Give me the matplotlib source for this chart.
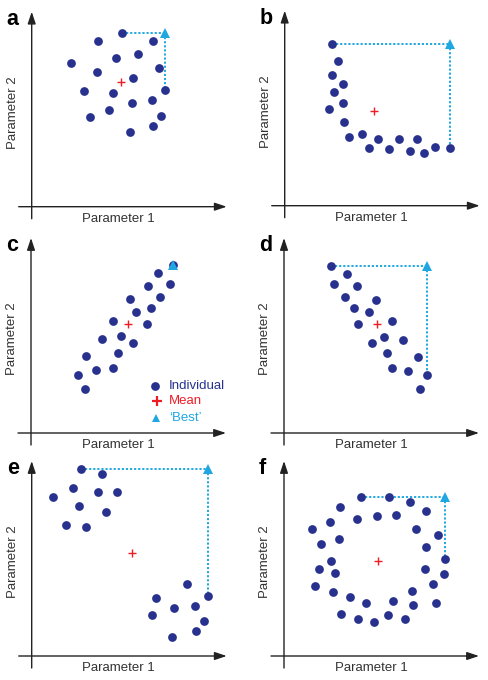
import numpy as np
import matplotlib
matplotlib.use('Agg')
import matplotlib.pyplot as plt

plt.rcParams['font.family'] = ['Liberation Sans', 'DejaVu Sans']

NAVY = '#28328e'
RED = '#ee1c25'
CYAN = '#1ea7e1'

# point coordinates per panel (parameter 1, parameter 2)
a_x = [90, 66.7, 121.7, 106.7, 84.3, 39, 127.7, 65.7, 101.7, 52.7, 81.7, 133.7, 100.3, 120.3, 77.7, 58.3, 129.7, 121.3, 98.3]
a_y = [173.3, 165.7, 165.7, 152.7, 148.3, 144, 138.7, 134.3, 129, 115.3, 113.3, 116.3, 104, 106.3, 96.7, 89.3, 90.7, 81, 74.7]
a_mean = (89.3, 124.7)

b_x = [47, 53, 47, 58.3, 49, 58.3, 44.7, 59.3, 64.7, 77, 84.3, 93.3, 104.7, 114, 125, 132, 139.7, 150, 165.7]
b_y = [161.7, 145, 130.3, 121.7, 114, 102.3, 96.7, 83.3, 69, 72, 57.3, 67, 56.3, 67, 54.7, 66.3, 52.7, 58.7, 57.7]
b_mean = (89, 94.3)

c_x = [141.7, 127, 117.3, 139.3, 98.7, 128.7, 105, 119.7, 81.7, 115.7, 90.3, 71, 101.7, 55, 86.7, 47, 65.3, 81.7, 54.3]
c_y = [167.7, 159.7, 147, 148.7, 133.7, 136.3, 121, 125, 112, 108.7, 96.7, 93.7, 90.3, 76.7, 80, 58.3, 62.7, 65, 44]
c_mean = (97, 109)

d_x = [47.3, 63.3, 50.3, 73, 61.3, 91.7, 70, 85, 74.3, 108.3, 99.7, 88, 119, 103, 134, 108.3, 124.3, 142.7, 136]
d_y = [167.3, 159.3, 148.7, 146.7, 136, 133.3, 124.7, 120.7, 108.7, 111.7, 96.3, 90, 93.3, 79.7, 76.3, 64.7, 62.3, 58, 43.7]
d_mean = (92.7, 108.7)

e_x = [49.7, 70.7, 41.3, 66, 85.7, 21, 47.7, 74.7, 34.7, 54.3,
       155.7, 124, 176.3, 142.7, 163, 120.3, 172.7, 164.3, 140.7]
e_y = [187.3, 182.3, 168, 164, 163.7, 159.3, 150, 144.3, 131, 128.7,
       72.3, 57.7, 60.3, 48.3, 50.3, 41, 34.7, 25, 19]
e_mean = (100.7, 102.7)

f_x = [77, 105.3, 126.3, 56, 142.3, 73, 92.7, 111.7, 46.3, 28.3, 132.3, 153.7, 37, 55.3, 142.3, 47.3, 160.7, 34.7,
       51.3, 141, 160.3, 31, 149.3, 48.7, 127.7, 66.3, 81.7, 108.7, 128.7, 152, 57.3, 74, 89.7, 103.7, 121.3]
f_y = [159.3, 159, 154, 149, 145.3, 137, 139.7, 141.3, 134, 126.7, 127.3, 120.7, 112, 117.3, 108.7, 95, 97.3, 86.7,
       82.7, 86.7, 82.3, 69.7, 72, 63.7, 65.3, 59, 53.3, 55, 51, 53.3, 42.3, 36.7, 33.7, 40.7, 36.7]
f_mean = (93.7, 95)

letters = ['a', 'b', 'c', 'd', 'e', 'f']
xs = [a_x, b_x, c_x, d_x, e_x, f_x]
ys = [a_y, b_y, c_y, d_y, e_y, f_y]
means = [a_mean, b_mean, c_mean, d_mean, e_mean, f_mean]

W, H = 488, 680
fig = plt.figure(figsize=(W / 100, H / 100), dpi=100)

# cell boxes in pixels (left, top, width, height) and axis origin inside cell
cells = [(0, 0, 244, 227), (244, 0, 244, 227),
         (0, 227, 244, 227), (244, 227, 244, 227),
         (0, 454, 244, 226), (244, 454, 244, 226)]
origins = [(31.7, 206.7), (40.7, 205.7), (31, 206), (40, 206), (31.7, 202), (40, 202)]

for i in range(6):
    cx, cy, cw, ch = cells[i]
    ox, oy = origins[i]
    ax = fig.add_axes([cx / W, 1 - (cy + ch) / H, cw / W, ch / H])
    ax.set_xlim(-ox, cw - ox)
    ax.set_ylim(-(ch - oy), oy)
    ax.axis('off')

    arrow = dict(arrowstyle='-|>,head_length=0.6,head_width=0.2', color='#222222',
                 lw=1.0, mutation_scale=12, shrinkA=0, shrinkB=0)
    ax.annotate('', xy=(0, 195), xytext=(0, -12), arrowprops=arrow)
    ax.annotate('', xy=(195, 0), xytext=(-13, 0), arrowprops=arrow)

    ax.text(87, -12, 'Parameter 1', ha='center', va='center', fontsize=9.5, color='#333333')
    ax.text(-19, 94, 'Parameter 2', ha='center', va='center', rotation=90, fontsize=9.5, color='#333333')
    ax.text(-25, 182, letters[i], ha='left', va='baseline', fontsize=15.5, fontweight='bold')

    x = np.array(xs[i])
    y = np.array(ys[i])
    bx, by = x.max(), y.max()
    top = np.argmax(y)
    right = np.argmax(x)

    ax.plot([x[top], bx], [by, by], ls=(0, (1.1, 1.0)), color=CYAN, lw=1.4, zorder=1)
    ax.plot([bx, bx], [by, y[right]], ls=(0, (1.1, 1.0)), color=CYAN, lw=1.4, zorder=1)
    ax.plot(x, y, 'o', color=NAVY, markersize=6.3, markeredgewidth=0, zorder=2)
    ax.plot(*means[i], '+', color=RED, markersize=6, markeredgewidth=1.0, zorder=3)
    ax.plot(bx, by, '^', color=CYAN, markersize=6.5, markeredgewidth=0, zorder=4)

    if letters[i] == 'c':
        ax.plot(124, 46.7, 'o', color=NAVY, markersize=6.3, markeredgewidth=0)
        ax.plot(126, 32, '+', color=RED, markersize=6.5, markeredgewidth=1.6)
        ax.plot(125, 15.3, '^', color=CYAN, markersize=6, markeredgewidth=0)
        ax.text(138, 46.7, 'Individual', color=NAVY, fontsize=9.5, va='center')
        ax.text(138, 32, 'Mean', color=RED, fontsize=9.5, va='center')
        ax.text(138, 15.3, '\u2018Best\u2019', color=CYAN, fontsize=9.5, va='center')

fig.savefig('out.png', dpi=100)
